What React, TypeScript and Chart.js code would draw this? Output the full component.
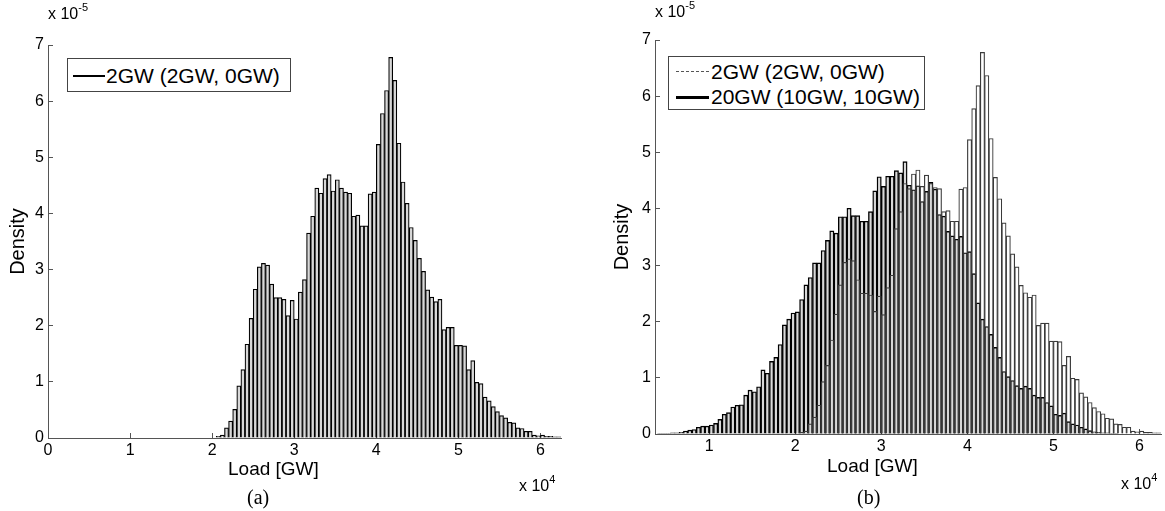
import React, { useEffect, useRef } from 'react';
import { Chart, registerables } from 'chart.js';

Chart.register(...registerables);

// ---- data (load in GW, density in units of 1e-5) ----
const BIN_WIDTH = 500;
const firstBinEdge2GW = 20500;
const density2GW = [
  0.03, 0.05, 0.18, 0.30, 0.51, 0.93, 1.22, 1.67, 2.13, 2.65,
  3.05, 3.11, 3.08, 2.74, 2.50, 2.50, 2.47, 2.18, 2.45, 2.12,
  2.60, 2.82, 3.65, 3.95, 4.45, 4.36, 4.62, 4.69, 4.40, 4.60,
  4.45, 4.38, 4.36, 3.95, 3.97, 3.78, 3.78, 4.35, 4.38, 5.23,
  5.78, 6.19, 6.78, 6.37, 5.25, 4.56, 4.18, 3.75, 3.52, 3.20,
  2.97, 2.64, 2.51, 2.43, 2.47, 1.93, 1.97, 1.97, 1.65, 1.65,
  1.64, 1.22, 1.38, 0.99, 0.97, 0.73, 0.66, 0.56, 0.47, 0.40,
  0.36, 0.28, 0.27, 0.18, 0.17, 0.12, 0.12, 0.05, 0.04, 0.05,
  0.03, 0.03, 0.02, 0.02,
];
const firstBinEdge20GW = 4000;
const density20GW = [
  0.01, 0.01, 0.01, 0.02, 0.02, 0.03, 0.05, 0.07, 0.08, 0.12,
  0.14, 0.14, 0.16, 0.19, 0.26, 0.35, 0.38, 0.48, 0.51, 0.52,
  0.69, 0.78, 0.75, 0.84, 1.14, 1.08, 1.29, 1.36, 1.59, 1.94,
  2.04, 2.15, 2.17, 2.39, 2.65, 2.78, 3.04, 3.04, 3.26, 3.44,
  3.61, 3.57, 3.86, 3.86, 4.01, 3.88, 3.88, 3.78, 3.78, 3.95,
  4.32, 4.57, 4.40, 4.58, 4.58, 4.68, 4.64, 4.84, 4.42, 4.34,
  4.41, 4.13, 4.31, 4.47, 4.35, 3.90, 3.87, 3.60, 3.52, 3.46,
  3.51, 3.22, 3.24, 2.85, 2.33, 2.04, 1.91, 1.77, 1.54, 1.36,
  1.11, 1.02, 0.95, 0.86, 0.81, 0.85, 0.81, 0.69, 0.65, 0.65,
  0.56, 0.50, 0.35, 0.33, 0.37, 0.22, 0.18, 0.16, 0.12, 0.09,
  0.06, 0.04, 0.03, 0.02, 0.02, 0.01, 0.01,
];
const xTicksA = [0, 10000, 20000, 30000, 40000, 50000, 60000];
const xTicksB = [10000, 20000, 30000, 40000, 50000, 60000];
const yTicks = [0, 1, 2, 3, 4, 5, 6, 7];
const label2GW = '2GW (2GW, 0GW)';
const label20GW = '20GW (10GW, 10GW)';
const xTitle = 'Load [GW]';
const yTitle = 'Density';

const FONT = "'Liberation Sans', Arial, Helvetica, sans-serif";
const SERIF = "'Liberation Serif', 'Times New Roman', serif";

function toPoints(firstEdge: number, values: number[]) {
  return values.map((v, i) => ({ x: firstEdge + BIN_WIDTH * i + BIN_WIDTH / 2, y: v }));
}

function axisOptions(opts: {
  xmin: number; xmax: number; xTicks: number[]; xHeight: number; yWidth: number; yTitlePad: number;
}) {
  const gridCommon = { drawOnChartArea: false, drawTicks: true, tickLength: -5, color: '#555', lineWidth: 1, offset: false };
  return {
    x: {
      type: 'linear' as const,
      min: opts.xmin,
      max: opts.xmax,
      offset: false,
      afterBuildTicks: (s: any) => { s.ticks = opts.xTicks.map((v) => ({ value: v })); },
      ticks: {
        callback: (v: any) => String(Number(v) / 10000),
        font: { family: FONT, size: 16 },
        color: '#000',
        padding: 8,
        maxRotation: 0,
        autoSkip: false,
      },
      grid: gridCommon,
      border: { display: true, color: '#555', width: 1 },
      title: { display: false },
      afterFit: (s: any) => { s.height = opts.xHeight; },
    },
    y: {
      type: 'linear' as const,
      min: 0,
      max: 7,
      afterBuildTicks: (s: any) => { s.ticks = yTicks.map((v) => ({ value: v })); },
      ticks: {
        font: { family: FONT, size: 16 },
        color: '#000',
        padding: 9,
      },
      grid: gridCommon,
      border: { display: true, color: '#555', width: 1 },
      title: { display: true, text: yTitle, font: { family: FONT, size: 20 }, color: '#000', padding: { top: opts.yTitlePad, bottom: 0 } },
      afterFit: (s: any) => { s.width = opts.yWidth; },
    },
  };
}

function PanelA() {
  const ref = useRef<HTMLCanvasElement>(null);
  useEffect(() => {
    if (!ref.current) return;
    const chart = new Chart(ref.current, {
      type: 'bar',
      data: {
        datasets: [
          {
            label: label2GW,
            data: toPoints(firstBinEdge2GW, density2GW) as any,
            backgroundColor: '#d8d8d8',
            borderColor: '#000',
            borderWidth: 1.2,
            borderSkipped: 'start',
            barPercentage: 1,
            categoryPercentage: 1,
            grouped: false,
          } as any,
        ],
      },
      options: {
        animation: false,
        responsive: false,
        maintainAspectRatio: false,
        layout: { padding: { left: 0, right: 19, top: 45, bottom: 32 } },
        plugins: { legend: { display: false }, tooltip: { enabled: false } },
        scales: axisOptions({ xmin: 0, xmax: 62500, xTicks: xTicksA, xHeight: 41, yWidth: 48, yTitlePad: 6 }) as any,
      },
    });
    return () => chart.destroy();
  }, []);
  return <canvas ref={ref} width={580} height={511} style={{ position: 'absolute', left: 0, top: 0, width: 580, height: 511 }} />;
}

function PanelB() {
  const ref = useRef<HTMLCanvasElement>(null);
  useEffect(() => {
    if (!ref.current) return;
    const chart = new Chart(ref.current, {
      type: 'bar',
      data: {
        datasets: [
          {
            label: label2GW,
            data: toPoints(firstBinEdge2GW, density2GW) as any,
            backgroundColor: 'rgba(0,0,0,0)',
            borderColor: '#3a3a3a',
            borderWidth: 0.5,
            borderSkipped: 'start',
            barPercentage: 1,
            categoryPercentage: 1,
            grouped: false,
          } as any,
          {
            label: label20GW,
            data: toPoints(firstBinEdge20GW, density20GW) as any,
            backgroundColor: '#d8d8d8',
            borderColor: '#000',
            borderWidth: 1.4,
            borderSkipped: 'start',
            barPercentage: 1,
            categoryPercentage: 1,
            grouped: false,
          } as any,
        ],
      },
      options: {
        animation: false,
        responsive: false,
        maintainAspectRatio: false,
        layout: { padding: { left: 0, right: 4, top: 40, bottom: 36 } },
        plugins: { legend: { display: false }, tooltip: { enabled: false } },
        scales: axisOptions({ xmin: 3700, xmax: 62500, xTicks: xTicksB, xHeight: 41, yWidth: 75, yTitlePad: 30 }) as any,
      },
    });
    return () => chart.destroy();
  }, []);
  return <canvas ref={ref} width={585} height={511} style={{ position: 'absolute', left: 580, top: 0, width: 585, height: 511 }} />;
}

const txt: React.CSSProperties = { position: 'absolute', fontFamily: FONT, color: '#000', whiteSpace: 'nowrap', lineHeight: 1 };

function Multiplier({ left, top, exp }: { left: number; top: number; exp: string }) {
  return (
    <div style={{ ...txt, left, top, fontSize: 16 }}>
      x 10<span style={{ fontSize: 11, position: 'relative', top: -8 }}>{exp}</span>
    </div>
  );
}

export default function App() {
  return (
    <div style={{ position: 'absolute', left: 0, top: 0, width: 1165, height: 511, background: '#fff', overflow: 'hidden' }}>
      <PanelA />
      <PanelB />

      {/* axis titles */}
      <div style={{ ...txt, left: 228, top: 459, fontSize: 19 }}>{xTitle}</div>
      <div style={{ ...txt, left: 827, top: 456, fontSize: 19 }}>{xTitle}</div>

      {/* exponent labels */}
      <Multiplier left={48} top={6} exp="-5" />
      <Multiplier left={655} top={4} exp="-5" />
      <Multiplier left={519} top={478} exp="4" />
      <Multiplier left={1121} top={476} exp="4" />

      {/* panel captions */}
      <div style={{ ...txt, left: 247, top: 487, fontSize: 20, fontFamily: SERIF }}>(a)</div>
      <div style={{ ...txt, left: 857, top: 487, fontSize: 20, fontFamily: SERIF }}>(b)</div>

      {/* legend (a) */}
      <div style={{ position: 'absolute', left: 67, top: 58, width: 222, height: 32, border: '1px solid #444', background: '#fff' }}>
        <div style={{ position: 'absolute', left: 5, top: 16, width: 32, borderTop: '2px solid #000' }} />
        <div style={{ ...txt, left: 38, top: 6, fontSize: 21 }}>{label2GW}</div>
      </div>

      {/* legend (b) */}
      <div style={{ position: 'absolute', left: 668, top: 56, width: 255, height: 52, border: '1px solid #444', background: '#fff' }}>
        <div style={{ position: 'absolute', left: 7, top: 14, width: 33, borderTop: '1px dashed #555' }} />
        <div style={{ ...txt, left: 42, top: 4, fontSize: 21 }}>{label2GW}</div>
        <div style={{ position: 'absolute', left: 7, top: 39, width: 33, borderTop: '3px solid #000' }} />
        <div style={{ ...txt, left: 42, top: 29, fontSize: 21 }}>{label20GW}</div>
      </div>
    </div>
  );
}
